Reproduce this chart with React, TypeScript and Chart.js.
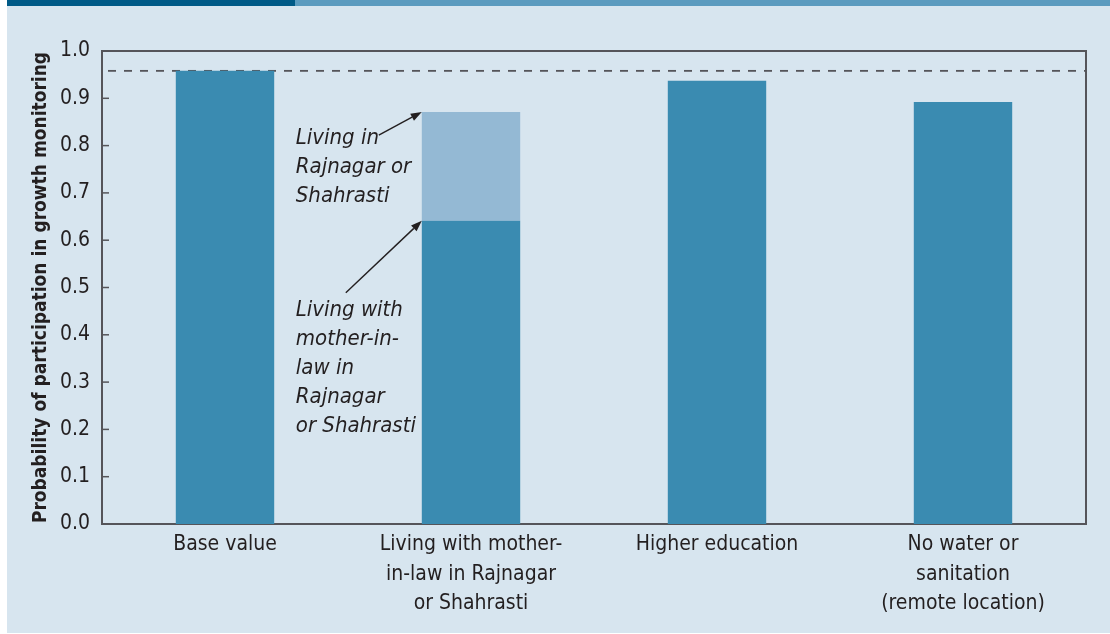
import React, { useEffect, useRef } from "react";
import { Chart, registerables } from "chart.js";

Chart.register(...registerables);

// ---------- data ----------
const categories: string[][] = [
  ["Base value"],
  ["Living with mother-", "in-law in Rajnagar", "or Shahrasti"],
  ["Higher education"],
  ["No water or", "sanitation", "(remote location)"],
];
const baseSegment = [0.958, 0.641, 0.937, 0.892];
const locationSegment = [0, 0.23, 0, 0];
const referenceLevel = 0.958;
const yAxisTitle = "Probability of participation in growth monitoring";
const noteUpperLines = ["Living in", "Rajnagar or", "Shahrasti"];
const noteLowerLines = ["Living with", "mother-in-", "law in", "Rajnagar", "or Shahrasti"];

// ---------- styles ----------
const FONT = '"Liberation Sans Narrow", "DejaVu Sans Condensed", "Liberation Sans", sans-serif';
const TEXT = "#231f20";
const FRAME = "#55555a";
const DARK = "#3a8bb1";
const LIGHT = "#94b9d4";
const PANEL = "#d7e5ef";

const framePlugin = {
  id: "frame",
  beforeDatasetsDraw(chart: any) {
    const { ctx, chartArea } = chart;
    const y = chart.scales.y;
    ctx.save();
    // reference dashed line
    const yr = y.getPixelForValue(referenceLevel);
    ctx.strokeStyle = FRAME;
    ctx.lineWidth = 1.8;
    ctx.setLineDash([8, 8]);
    ctx.beginPath();
    ctx.moveTo(chartArea.left + 6, yr);
    ctx.lineTo(chartArea.right, yr);
    ctx.stroke();
    ctx.setLineDash([]);
    // frame
    ctx.lineWidth = 2;
    ctx.strokeRect(chartArea.left, chartArea.top, chartArea.right - chartArea.left, chartArea.bottom - chartArea.top);
    // inward ticks
    ctx.lineWidth = 1.5;
    y.ticks.forEach((t: any) => {
      const py = y.getPixelForValue(t.value);
      ctx.beginPath();
      ctx.moveTo(chartArea.left, py);
      ctx.lineTo(chartArea.left + 7, py);
      ctx.stroke();
    });
    ctx.restore();
  },
};

function arrow(ctx: CanvasRenderingContext2D, x0: number, y0: number, x1: number, y1: number) {
  const ang = Math.atan2(y1 - y0, x1 - x0);
  const head = 11;
  const half = 4;
  const bx = x1 - head * Math.cos(ang);
  const by = y1 - head * Math.sin(ang);
  ctx.beginPath();
  ctx.moveTo(x0, y0);
  ctx.lineTo(bx, by);
  ctx.stroke();
  ctx.beginPath();
  ctx.moveTo(x1, y1);
  ctx.lineTo(bx + half * Math.sin(ang), by - half * Math.cos(ang));
  ctx.lineTo(bx - half * Math.sin(ang), by + half * Math.cos(ang));
  ctx.closePath();
  ctx.fill();
}

const notesPlugin = {
  id: "notes",
  afterDatasetsDraw(chart: any) {
    const { ctx } = chart;
    const y = chart.scales.y;
    const bar = chart.getDatasetMeta(0).data[1];
    const left = bar.x - bar.width / 2;
    const notes = [
      { lines: noteUpperLines, value: baseSegment[1] + locationSegment[1], tail: [-43, 23], textDy: 26 },
      { lines: noteLowerLines, value: baseSegment[1], tail: [-76, 72], textDy: 89 },
    ];
    ctx.save();
    ctx.fillStyle = TEXT;
    ctx.strokeStyle = TEXT;
    ctx.lineWidth = 1.4;
    ctx.font = `italic 22px ${FONT}`;
    ctx.textAlign = "left";
    ctx.textBaseline = "middle";
    notes.forEach((n) => {
      const ty = y.getPixelForValue(n.value);
      arrow(ctx, left + n.tail[0], ty + n.tail[1], left, ty);
      n.lines.forEach((ln, i) => {
        ctx.fillText(ln, left - 126, ty + n.textDy + i * 29);
      });
    });
    ctx.restore();
  },
};

export default function App() {
  const ref = useRef<HTMLCanvasElement | null>(null);
  useEffect(() => {
    if (!ref.current) return;
    const chart = new Chart(ref.current, {
      type: "bar",
      data: {
        labels: categories,
        datasets: [
          { label: "Base", data: baseSegment, backgroundColor: DARK, borderWidth: 0, barPercentage: 0.4, categoryPercentage: 1 },
          { label: "Location", data: locationSegment, backgroundColor: LIGHT, borderWidth: 0, barPercentage: 0.4, categoryPercentage: 1 },
        ],
      },
      options: {
        responsive: false,
        animation: false,
        layout: { padding: { top: 51, right: 24, bottom: 0, left: 0 } },
        plugins: { legend: { display: false }, tooltip: { enabled: false } },
        scales: {
          x: {
            stacked: true,
            grid: { display: false, drawTicks: false },
            border: { display: false },
            ticks: {
              autoSkip: false,
              maxRotation: 0,
              padding: 6,
              color: TEXT,
              font: { family: FONT, size: 21, lineHeight: 1.4 },
            },
            afterFit: (s: any) => {
              s.height = 110;
            },
          },
          y: {
            stacked: true,
            min: 0,
            max: 1,
            grid: { display: false, drawTicks: false },
            border: { display: false },
            ticks: {
              stepSize: 0.1,
              padding: 12,
              color: TEXT,
              font: { family: FONT, size: 21 },
              callback: (v: any) => Number(v).toFixed(1),
            },
            title: {
              display: true,
              text: yAxisTitle,
              color: TEXT,
              padding: { top: 30, bottom: 0 },
              font: { family: FONT, size: 19, weight: "bold" },
            },
            afterFit: (s: any) => {
              s.width = 102;
            },
          },
        },
      },
      plugins: [framePlugin, notesPlugin],
    });
    return () => chart.destroy();
  }, []);

  return (
    <div style={{ position: "absolute", left: 0, top: 0, width: 1110, height: 634, background: "#ffffff" }}>
      <div style={{ position: "absolute", left: 7, top: 0, width: 1103, height: 633, background: PANEL }} />
      <div style={{ position: "absolute", left: 7, top: 0, width: 288, height: 6, background: "#005a87" }} />
      <div style={{ position: "absolute", left: 295, top: 0, width: 815, height: 6, background: "#5b9bbf" }} />
      <canvas ref={ref} width={1110} height={634} style={{ position: "absolute", left: 0, top: 0 }} />
    </div>
  );
}
